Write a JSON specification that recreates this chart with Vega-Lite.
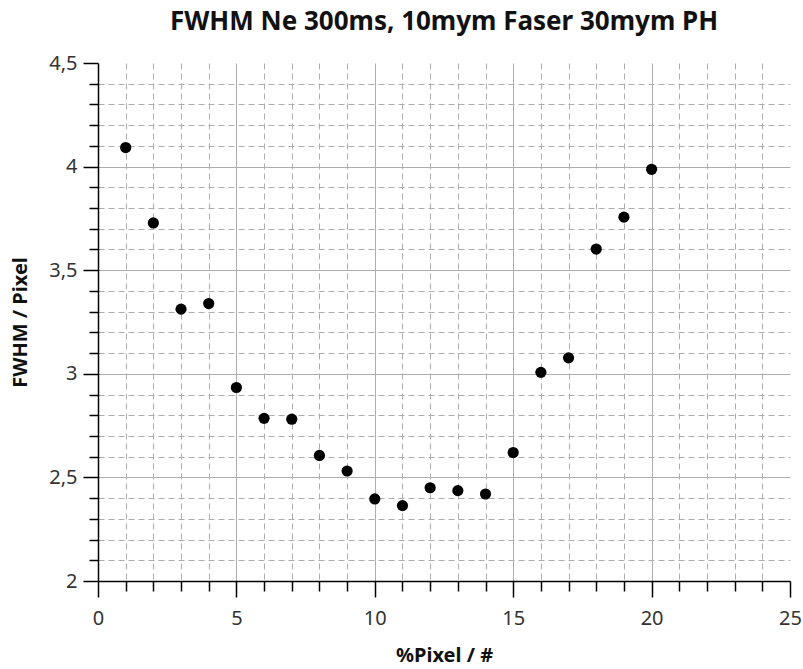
{
  "$schema": "https://vega.github.io/schema/vega-lite/v6.json",
  "autosize": "none",
  "width": 692,
  "height": 518,
  "padding": {"left": 98, "top": 63, "right": 13, "bottom": 88},
  "background": "white",
  "title": {
    "text": "FWHM Ne 300ms, 10mym Faser 30mym PH",
    "font": "Noto Sans",
    "fontSize": 26,
    "fontWeight": "bold",
    "color": "#111111",
    "anchor": "middle",
    "offset": 18
  },
  "data": {
    "values": [
      {"pixel": 1, "fwhm": 4.092},
      {"pixel": 2, "fwhm": 3.728},
      {"pixel": 3, "fwhm": 3.312},
      {"pixel": 4, "fwhm": 3.339},
      {"pixel": 5, "fwhm": 2.934},
      {"pixel": 6, "fwhm": 2.785},
      {"pixel": 7, "fwhm": 2.781},
      {"pixel": 8, "fwhm": 2.606},
      {"pixel": 9, "fwhm": 2.531},
      {"pixel": 10, "fwhm": 2.396},
      {"pixel": 11, "fwhm": 2.364},
      {"pixel": 12, "fwhm": 2.450},
      {"pixel": 13, "fwhm": 2.436},
      {"pixel": 14, "fwhm": 2.420},
      {"pixel": 15, "fwhm": 2.620},
      {"pixel": 16, "fwhm": 3.007},
      {"pixel": 17, "fwhm": 3.077},
      {"pixel": 18, "fwhm": 3.602},
      {"pixel": 19, "fwhm": 3.756},
      {"pixel": 20, "fwhm": 3.987}
    ]
  },
  "mark": {"type": "point", "filled": true, "color": "black", "opacity": 1, "size": 125},
  "encoding": {
    "x": {
      "field": "pixel",
      "type": "quantitative",
      "scale": {"domain": [0, 25], "nice": false, "zero": false},
      "axis": {
        "title": "%Pixel / #",
        "values": [0,1,2,3,4,5,6,7,8,9,10,11,12,13,14,15,16,17,18,19,20,21,22,23,24,25],
        "labelExpr": "datum.value % 5 === 0 ? datum.label : ''",
        "tickSize": {"condition": {"test": "datum.value % 5 === 0", "value": 16}, "value": 10},
        "gridDash": {"condition": {"test": "datum.value % 5 === 0", "value": []}, "value": [6, 4]},
        "gridOpacity": {"condition": {"test": "datum.value === 25", "value": 0}, "value": 1},
        "labelFlush": false,
        "labelPadding": 11,
        "titlePadding": 17
      }
    },
    "y": {
      "field": "fwhm",
      "type": "quantitative",
      "scale": {"domain": [2, 4.5], "nice": false, "zero": false},
      "axis": {
        "title": "FWHM / Pixel",
        "values": [2.0,2.1,2.2,2.3,2.4,2.5,2.6,2.7,2.8,2.9,3.0,3.1,3.2,3.3,3.4,3.5,3.6,3.7,3.8,3.9,4.0,4.1,4.2,4.3,4.4,4.5],
        "labelExpr": "round(datum.value*10) % 5 === 0 ? replace(format(datum.value, '~g'), '.', ',') : ''",
        "tickSize": {"condition": {"test": "round(datum.value*10) % 5 === 0", "value": 15}, "value": 9},
        "gridDash": {"condition": {"test": "round(datum.value*10) % 5 === 0", "value": []}, "value": [6, 4]},
        "gridOpacity": {"condition": {"test": "datum.value === 4.5", "value": 0}, "value": 1},
        "labelFlush": false,
        "labelPadding": 6,
        "titlePadding": 18
      }
    }
  },
  "config": {
    "view": {"stroke": null},
    "axis": {
      "domainColor": "black",
      "domainWidth": 1.5,
      "tickColor": "black",
      "tickWidth": 1.5,
      "grid": true,
      "gridColor": "#adadad",
      "gridWidth": 1,
      "labelFont": "Noto Sans",
      "labelFontSize": 20,
      "labelColor": "#333333",
      "labelOverlap": false,
      "titleFont": "Noto Sans",
      "titleFontSize": 20,
      "titleFontWeight": "bold",
      "titleColor": "#111111"
    }
  }
}
